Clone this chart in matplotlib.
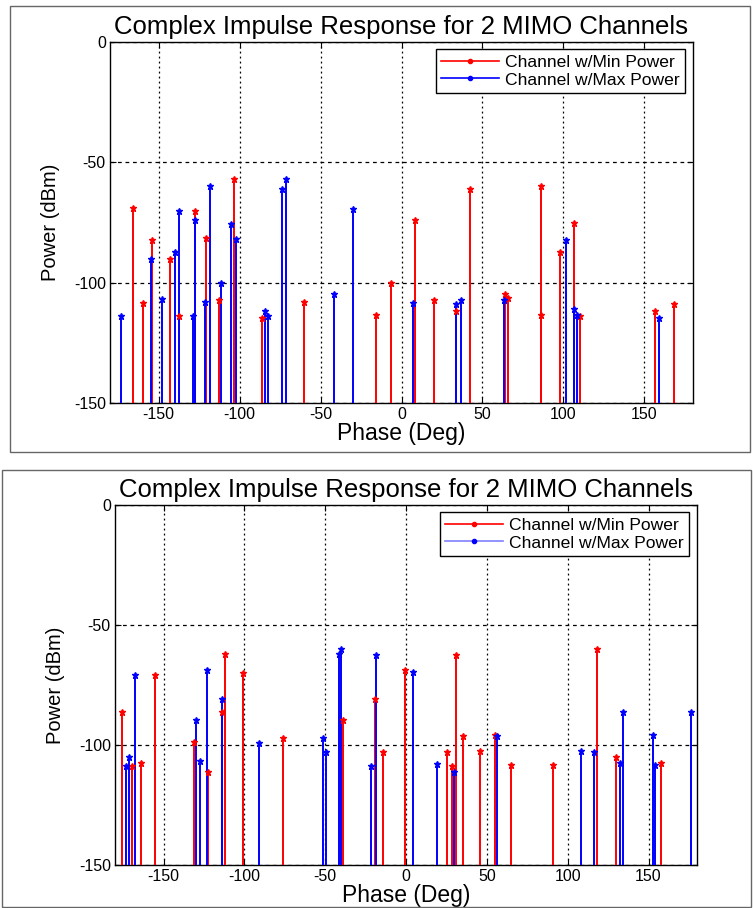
import matplotlib
matplotlib.use('Agg')
import matplotlib.pyplot as plt
from matplotlib.lines import Line2D
from matplotlib.patches import Rectangle

plt.rcParams['font.family'] = ['Liberation Sans', 'DejaVu Sans']
plt.rcParams['axes.unicode_minus'] = False

TITLE = 'Complex Impulse Response for 2 MIMO Channels'
LABEL_MIN = 'Channel w/Min Power'
LABEL_MAX = 'Channel w/Max Power'

# top panel
top_min_phase = [-165.7, -159.6, -153.8, -142.9, -137.5, -127.3, -120.7, -112.8, -103.7, -86.0,
                 -60.5, -15.5, -6.2, 8.3, 19.9, 33.5, 42.2, 64.0, 65.8, 85.9,
                 85.9, 97.9, 106.6, 110.5, 156.3, 168.3]
top_min_power = [-69.0, -108.4, -82.4, -90.3, -114.0, -70.2, -81.6, -107.2, -57.0, -114.5,
                 -108.0, -113.5, -100.0, -74.1, -107.2, -111.6, -60.9, -104.9, -106.5, -60.0,
                 -113.3, -87.3, -75.3, -114.0, -111.6, -109.0]
top_max_phase = [-173.1, -154.7, -147.8, -140.0, -137.5, -129.0, -127.3, -121.5, -118.2, -111.2,
                 -105.4, -101.9, -84.5, -82.4, -73.9, -71.4, -41.9, -30.1, 7.4, 33.5,
                 37.0, 63.1, 101.4, 106.3, 108.4, 159.0]
top_max_power = [-114.0, -90.3, -106.6, -87.3, -70.2, -113.7, -74.1, -108.0, -60.0, -100.0,
                 -75.5, -81.7, -111.6, -114.0, -60.9, -57.0, -104.9, -69.2, -108.4, -109.0,
                 -107.0, -107.2, -82.4, -111.0, -113.3, -114.5]

# bottom panel
bot_min_phase = [-175.7, -169.7, -163.7, -155.4, -130.9, -122.7, -114.0, -112.1, -101.1, -76.0,
                 -39.0, -19.4, -14.0, -0.7, 25.3, 28.5, 31.2, 35.4, 45.6, 54.8,
                 64.9, 91.2, 118.1, 129.7, 157.6]
bot_min_power = [-86.4, -108.9, -107.3, -70.8, -98.9, -111.3, -86.1, -62.2, -70.0, -97.2,
                 -89.5, -81.0, -103.1, -68.9, -103.1, -108.6, -62.5, -96.4, -102.4, -95.8,
                 -108.2, -108.2, -60.0, -105.0, -107.3]
bot_max_phase = [-173.2, -171.3, -167.8, -130.1, -127.6, -123.1, -114.0, -91.0, -51.4, -49.6,
                 -41.3, -40.5, -21.4, -18.5, 4.5, 19.4, 29.5, 56.4, 108.2, 116.5,
                 132.4, 134.3, 152.5, 154.2, 176.3]
bot_max_power = [-108.9, -105.0, -70.8, -89.5, -106.8, -68.9, -81.0, -99.0, -97.2, -103.1,
                 -62.2, -60.0, -108.6, -62.5, -69.6, -108.1, -111.3, -96.4, -102.4, -102.9,
                 -107.3, -86.4, -95.8, -108.2, -86.1]

x_ticks = [-150, -100, -50, 0, 50, 100, 150]
y_ticks = [-150, -100, -50, 0]


def plot_panel(ax, min_phase, min_power, max_phase, max_power, max_legend_color):
    floor = -150
    ax.vlines(min_phase, floor, min_power, colors='#ff0000', lw=1.4, zorder=3)
    ax.plot(min_phase, min_power, ls='none', marker='*', ms=5, color='#ff0000', zorder=4)
    ax.vlines(max_phase, floor, max_power, colors='#0000ff', lw=1.4, zorder=3)
    ax.plot(max_phase, max_power, ls='none', marker='*', ms=5, color='#0000ff', zorder=4)

    ax.set_xlim(-180, 180)
    ax.set_ylim(-150, 0)
    ax.set_xticks(x_ticks)
    ax.set_yticks(y_ticks)
    ax.tick_params(direction='in', top=True, right=True, labelsize=11.5, length=4, pad=3)
    ax.grid(True, axis='x', color='k', linestyle=(0, (1.5, 2.5)), lw=0.9)
    ax.grid(True, axis='y', color='k', linestyle=(0, (3, 3)), lw=0.9)
    ax.set_axisbelow(True)
    for s in ax.spines.values():
        s.set_linewidth(1.0)

    ax.set_title(TITLE, fontsize=18.5, pad=6)
    ax.set_xlabel('Phase (Deg)', fontsize=16.5, labelpad=0)
    ax.set_ylabel('Power (dBm)', fontsize=14.5, labelpad=10)

    handles = [
        Line2D([], [], color='#ff0000', marker='.', ms=6, lw=1.2),
        Line2D([], [], color=max_legend_color, marker='.', ms=6, lw=1.2, mfc='#0000ff', mec='#0000ff'),
    ]
    leg = ax.legend(handles, [LABEL_MIN, LABEL_MAX], loc='upper right',
                    bbox_to_anchor=(0.986, 0.98), fontsize=12.6, frameon=True, fancybox=False,
                    edgecolor='k', framealpha=1, handlelength=3.3, handletextpad=0.35,
                    labelspacing=0.15, borderpad=0.3, borderaxespad=0)
    leg.get_frame().set_linewidth(1.0)


def main():
    W, H = 753, 908
    fig = plt.figure(figsize=(W / 100, H / 100), dpi=100)

    # panel frames
    fig.add_artist(Rectangle((10 / W, 1 - 452 / H), 740 / W, 446 / H, transform=fig.transFigure,
                             fill=False, ec='#666666', lw=1.0))
    fig.add_artist(Rectangle((2 / W, 1 - 907 / H), 749 / W, 437 / H, transform=fig.transFigure,
                             fill=False, ec='#666666', lw=1.0))

    ax_top = fig.add_axes([110 / W, 1 - 403 / H, 583 / W, 361 / H])
    ax_bot = fig.add_axes([115 / W, 1 - 865 / H, 582 / W, 360 / H])

    plot_panel(ax_top, top_min_phase, top_min_power, top_max_phase, top_max_power, '#0000ff')
    plot_panel(ax_bot, bot_min_phase, bot_min_power, bot_max_phase, bot_max_power, '#8080ff')

    fig.savefig('out.png', dpi=100)


if __name__ == "__main__":
    main()
